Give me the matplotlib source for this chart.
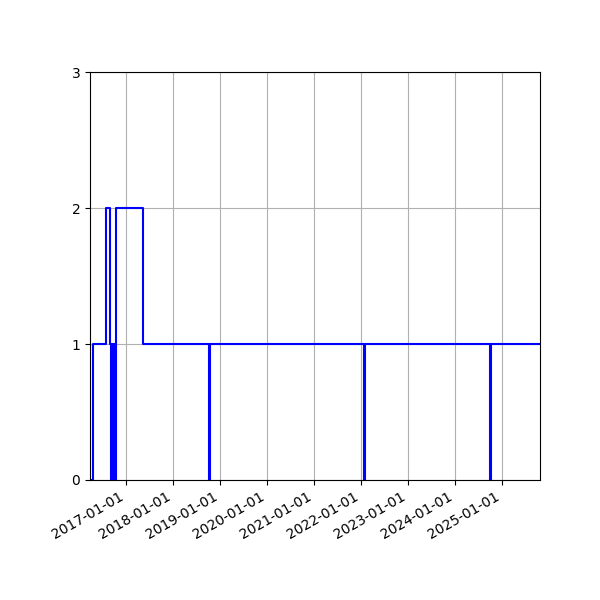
import numpy as np
import matplotlib
matplotlib.use('Agg')
from matplotlib import pyplot as plt
import matplotlib.dates as mdates


# change dates and the value held from each date on (step, where='post')
DATES = [
    '2016-03-30', '2016-04-24', '2016-07-29', '2016-09-05',
    '2016-09-12', '2016-09-16', '2016-09-21', '2016-09-25',
    '2016-09-30', '2016-10-04', '2016-10-09', '2016-10-16',
    '2017-05-13', '2018-10-08', '2018-10-14', '2022-01-25',
    '2022-01-30', '2024-09-28', '2024-10-06', '2025-10-21',
]
VALUES = [
    0, 1, 2, 1,
    0, 1, 0, 1,
    0, 1, 0, 2,
    1, 0, 1, 0,
    1, 0, 1, 1,
]
Y_TICKS = [0, 1, 2, 3]


def plot(dates, values):
    fig = plt.figure(figsize=(6, 6), dpi=100)
    ax = fig.add_subplot(111)

    ax.step(dates, values, where='post', color='b', linewidth=1.5)

    ax.set_xlim(dates[0], dates[-1])
    ax.set_ylim(0, 3)
    ax.set_yticks(Y_TICKS)
    ax.xaxis.set_major_locator(mdates.YearLocator())
    ax.xaxis.set_major_formatter(mdates.DateFormatter('%Y-%m-%d'))
    ax.grid(True)

    fig.autofmt_xdate()
    fig.subplots_adjust(left=0.15, right=0.9, bottom=0.2, top=0.88)
    fig.savefig('out.png')


def main():
    dates = np.array(DATES, dtype='datetime64[D]')
    plot(dates, VALUES)


if __name__ == '__main__':
    main()
